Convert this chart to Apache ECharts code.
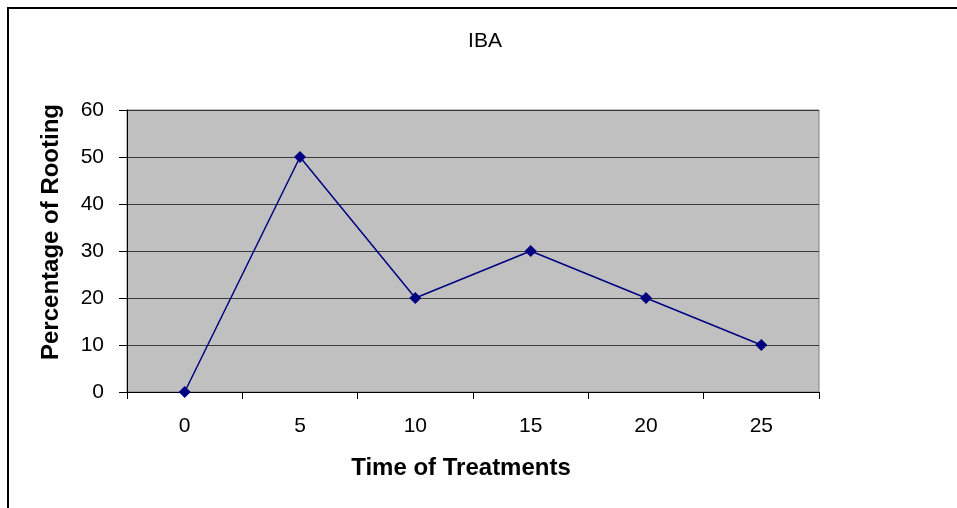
<!DOCTYPE html>
<html>
<head>
<meta charset="utf-8">
<script src="https://cdn.jsdelivr.net/npm/echarts@6/dist/echarts.min.js"></script>
<style>html,body{margin:0;padding:0;background:#fff}#c{width:957px;height:508px}</style>
</head>
<body>
<div id="c"></div>
<script>
const categories = ['0', '5', '10', '15', '20', '25'];
const rooting = [0, 50, 20, 30, 20, 10];
const yTicks = [0, 10, 20, 30, 40, 50, 60];

const chart = echarts.init(document.getElementById('c'), null, {renderer: 'canvas'});
const font = '"Liberation Sans", Arial, sans-serif';
chart.setOption({
  animation: false,
  backgroundColor: '#ffffff',
  title: {
    text: 'IBA', left: 480, top: 26, textAlign: 'center',
    textStyle: {fontFamily: font, fontSize: 21, fontWeight: 'normal', color: '#000'}
  },
  graphic: [{
    type: 'rect', shape: {x: 8, y: 8, width: 1200, height: 1200},
    style: {fill: null, stroke: '#000', lineWidth: 2}, silent: true
  }],
  grid: {
    left: 127, right: 138, top: 110, bottom: 116,
    show: true, backgroundColor: '#C0C0C0', borderColor: '#808080', borderWidth: 1
  },
  xAxis: {
    type: 'category', data: categories, boundaryGap: true,
    name: 'Time of Treatments', nameLocation: 'middle', nameGap: 64,
    nameTextStyle: {fontFamily: font, fontSize: 24, fontWeight: 'bold', color: '#000', padding: [0, 24, 0, 0]},
    axisLine: {lineStyle: {color: '#000', width: 1}},
    axisTick: {show: true, length: 7, alignWithLabel: false, lineStyle: {color: '#000'}},
    axisLabel: {fontFamily: font, fontSize: 21, color: '#000', margin: 24},
    splitLine: {show: false}
  },
  yAxis: {
    type: 'value', min: yTicks[0], max: yTicks[yTicks.length - 1], interval: 10,
    name: 'Percentage of Rooting', nameLocation: 'middle', nameGap: 64, nameRotate: 90,
    nameTextStyle: {fontFamily: font, fontSize: 24, fontWeight: 'bold', color: '#000', padding: [0, 0, 0, 38]},
    axisLine: {show: true, lineStyle: {color: '#000', width: 1}},
    axisTick: {show: true, length: 8, lineStyle: {color: '#000'}},
    axisLabel: {fontFamily: font, fontSize: 21, color: '#000', margin: 23},
    splitLine: {show: true, lineStyle: {color: '#3a3a3a', width: 1}}
  },
  series: [{
    type: 'line', data: rooting,
    symbol: 'diamond', symbolSize: 12,
    lineStyle: {color: '#000080', width: 1.5},
    itemStyle: {color: '#000080'}
  }]
});
</script>
</body>
</html>
